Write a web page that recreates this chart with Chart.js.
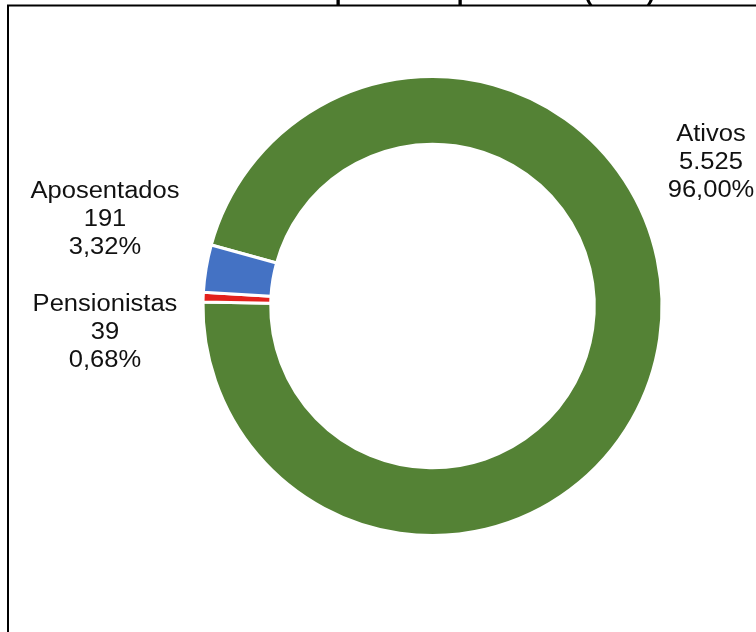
<!DOCTYPE html>
<html>
<head>
<meta charset="utf-8">
<script src="https://cdn.jsdelivr.net/npm/chart.js@4.4.1/dist/chart.umd.min.js"></script>
<style>
html,body{margin:0;padding:0;background:#fff;}
#wrap{position:relative;width:756px;height:632px;}
canvas{display:block;}
</style>
</head>
<body>
<div id="wrap"><canvas id="c" width="756" height="632"></canvas></div>
<script>
// Data
const categories = ['Ativos', 'Pensionistas', 'Aposentados'];
const counts = [5525, 39, 191];
const countLabels = ['5.525', '39', '191'];
const percentLabels = ['96,00%', '0,68%', '3,32%'];
const colors = ['#548235', '#E3211C', '#4472C4'];
const titleText = 'Gráfico 1 – Participantes do plano SPP (2019)';

const framePlugin = {
  id: 'frame',
  beforeDraw(chart) {
    const ctx = chart.ctx;
    ctx.save();
    ctx.fillStyle = '#fff';
    ctx.fillRect(0, 0, chart.width, chart.height);
    ctx.strokeStyle = '#000';
    ctx.lineWidth = 2;
    ctx.strokeRect(8, 5.5, 800, 700);
    // title (cut off at top as in the reference)
    ctx.font = 'bold 22px "Liberation Sans", Arial, sans-serif';
    ctx.fillStyle = '#000';
    ctx.textAlign = 'center';
    ctx.textBaseline = 'alphabetic';
    ctx.translate(391, -0.5);
    ctx.scale(1.11, 1);
    ctx.fillText(titleText, 0, 0);
    ctx.restore();
  }
};

const labelPlugin = {
  id: 'sliceLabels',
  afterDatasetsDraw(chart, args, opts) {
    const meta = chart.getDatasetMeta(0);
    const ctx = chart.ctx;
    const lh = opts.lineHeight;
    ctx.save();
    ctx.font = opts.font;
    ctx.fillStyle = opts.color;
    ctx.textAlign = 'center';
    ctx.textBaseline = 'middle';
    meta.data.forEach((arc, i) => {
      const a = opts.anchors[i];
      const cx = arc.x + a.dx;
      const cy = arc.y + a.dy;
      const lines = [categories[i], countLabels[i], percentLabels[i]];
      lines.forEach((t, k) => {
        ctx.save();
        ctx.translate(cx, cy + (k - 1) * lh);
        ctx.scale(opts.stretch, 1);
        ctx.fillText(t, 0, 0);
        ctx.restore();
      });
    });
    ctx.restore();
  }
};

new Chart(document.getElementById('c'), {
  type: 'doughnut',
  data: {
    labels: categories,
    datasets: [{
      data: counts,
      backgroundColor: colors,
      borderColor: '#ffffff',
      borderWidth: 3,
      hoverOffset: 0
    }]
  },
  options: {
    responsive: false,
    animation: false,
    cutout: '70.5%',
    rotation: -74.6,
    layout: { padding: { left: 201.5, right: 92.5, top: 75, bottom: 95 } },
    plugins: {
      legend: { display: false },
      tooltip: { enabled: false },
      title: { display: false },
      sliceLabels: {
        font: '23px "Liberation Sans", Arial, sans-serif',
        color: '#111111',
        lineHeight: 28,
        stretch: 1.11,
        anchors: [
          { dx: 278.5, dy: -143 },
          { dx: -327.5, dy: 27 },
          { dx: -327.5, dy: -86 }
        ]
      }
    }
  },
  plugins: [framePlugin, labelPlugin]
});
</script>
</body>
</html>
